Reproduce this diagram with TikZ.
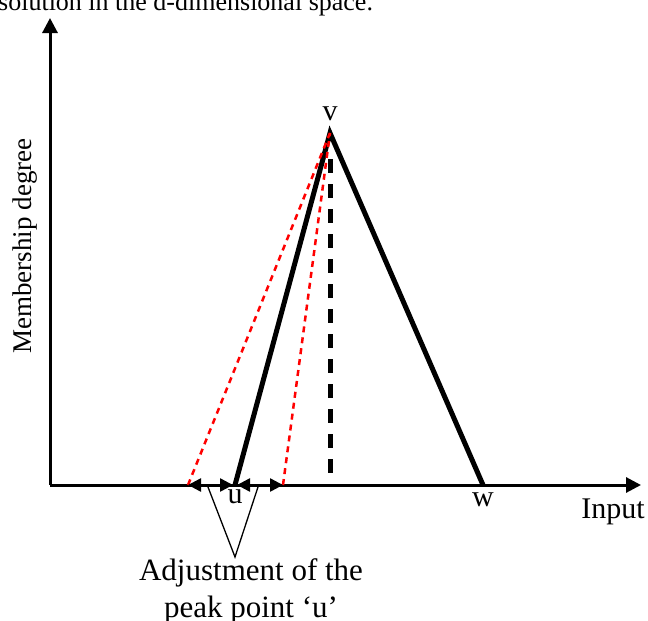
\documentclass[tikz,border=0pt]{standalone}
\usepackage{fontspec}
\setmainfont{Liberation Serif}
\usetikzlibrary{arrows.meta}

\begin{document}
\begin{tikzpicture}[x=1pt,y=-1pt,every node/.style={font=\fontsize{30}{37}\selectfont,inner sep=0}]
\tikzset{axis/.style={line width=3pt,-{Triangle[length=15pt,width=15pt]}},
  side/.style={line width=5pt,line join=miter},
  moveu/.style={line width=2.5pt,{Triangle[length=13pt,width=13pt]}-{Triangle[length=13pt,width=13pt]}},
  guess/.style={red,line width=2.5pt,dash pattern=on 6pt off 5pt},
  peakline/.style={line width=5pt,dash pattern=on 14pt off 11pt},
  callout/.style={line width=1.3pt}}
\useasboundingbox (0,0) rectangle (648,621);
% text cut off at the top of the page
\node[anchor=base west,font=\fontsize{26}{30}\selectfont] (cap) at (-2,10) {solution in the d-dimensional space.};
% axes
\coordinate (o) at (50,485);
\coordinate (ytip) at (50,18);
\coordinate (xtip) at (641,485);
\draw[axis] (o) -- (ytip);
\draw[axis] (o) -- (xtip);
\node[rotate=90,font=\fontsize{27}{30}\selectfont] (ylab) at (25,246) {Membership degree};
\node (xlab) at (613,512) {Input};
% triangle u-v-w
\coordinate (u) at (235,485);
\coordinate (v) at (330,133);
\coordinate (w) at (483,485);
\draw[side] (u) -- (v) -- (w);
\node (vlab) at (330,114) {v};
\node (ulab) at (235,497) {u};
\node (wlab) at (483,500) {w};
\coordinate (vtop) at (330,159);
\coordinate (vfoot) at (330,485);
\draw[peakline] (vtop) -- (vfoot);
% shifted peak points
\coordinate (ul) at (188,485);
\coordinate (ur) at (283,485);
\coordinate (ua) at (233,485);
\coordinate (ub) at (237,485);
\draw[guess] (ul) -- (v);
\draw[guess] (ur) -- (v);
\draw[moveu] (ul) -- (ua);
\draw[moveu] (ub) -- (ur);
% callout
\coordinate (cl) at (208,487);
\coordinate (cr) at (258,487);
\coordinate (ca) at (235,557);
\draw[callout] (cl) -- (ca) -- (cr);
\node[align=center,anchor=north,font=\fontsize{31}{37}\selectfont] (adj) at (251,558) {Adjustment of the\\peak point ‘u’};
\end{tikzpicture}
\end{document}
